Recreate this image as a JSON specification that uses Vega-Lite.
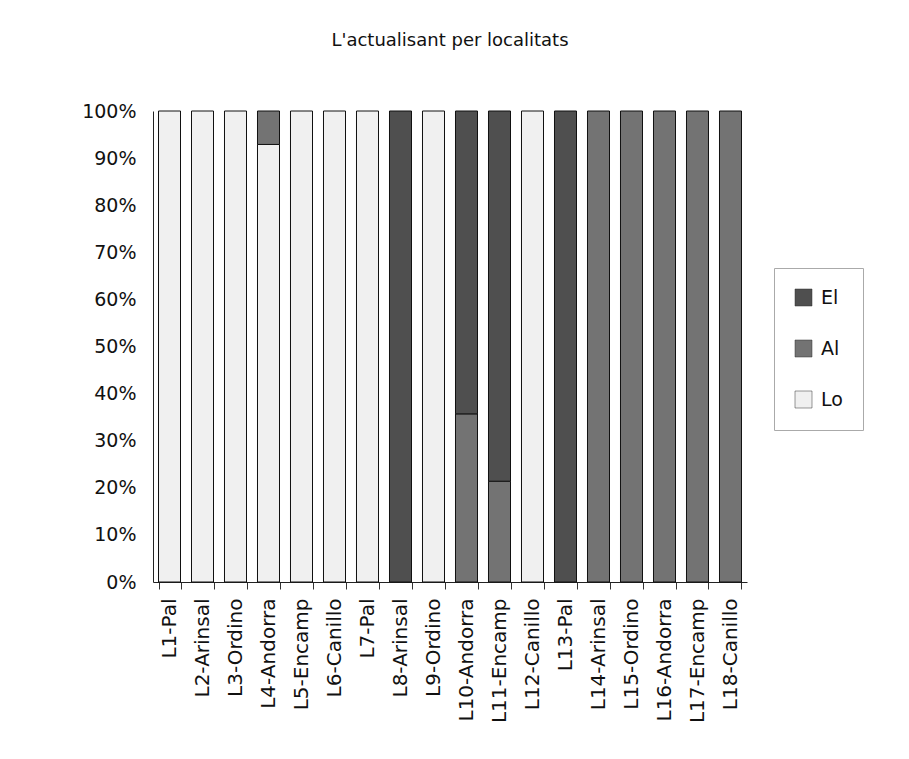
{
  "$schema": "https://vega.github.io/schema/vega-lite/v6.json",
  "autosize": {"type": "none"},
  "width": 594,
  "height": 471,
  "padding": {"left": 153, "top": 111, "right": 162, "bottom": 177},
  "background": "white",
  "title": {
    "text": "L'actualisant per localitats",
    "font": "DejaVu Sans",
    "fontSize": 18,
    "fontWeight": "normal",
    "color": "#111",
    "anchor": "middle",
    "frame": "group",
    "baseline": "alphabetic",
    "offset": 38
  },
  "data": {
    "values": [
      {"loc": "L1-Pal", "s": "Lo", "v": 100},
      {"loc": "L2-Arinsal", "s": "Lo", "v": 100},
      {"loc": "L3-Ordino", "s": "Lo", "v": 100},
      {"loc": "L4-Andorra", "s": "Lo", "v": 92.9},
      {"loc": "L4-Andorra", "s": "Al", "v": 7.1},
      {"loc": "L5-Encamp", "s": "Lo", "v": 100},
      {"loc": "L6-Canillo", "s": "Lo", "v": 100},
      {"loc": "L7-Pal", "s": "Lo", "v": 100},
      {"loc": "L8-Arinsal", "s": "El", "v": 100},
      {"loc": "L9-Ordino", "s": "Lo", "v": 100},
      {"loc": "L10-Andorra", "s": "Al", "v": 35.7},
      {"loc": "L10-Andorra", "s": "El", "v": 64.3},
      {"loc": "L11-Encamp", "s": "Al", "v": 21.4},
      {"loc": "L11-Encamp", "s": "El", "v": 78.6},
      {"loc": "L12-Canillo", "s": "Lo", "v": 100},
      {"loc": "L13-Pal", "s": "El", "v": 100},
      {"loc": "L14-Arinsal", "s": "Al", "v": 100},
      {"loc": "L15-Ordino", "s": "Al", "v": 100},
      {"loc": "L16-Andorra", "s": "Al", "v": 100},
      {"loc": "L17-Encamp", "s": "Al", "v": 100},
      {"loc": "L18-Canillo", "s": "Al", "v": 100}
    ]
  },
  "transform": [
    {"calculate": "indexof(['Lo','Al','El'], datum.s)", "as": "ord"}
  ],
  "mark": {"type": "bar", "stroke": "#111", "strokeWidth": 1},
  "encoding": {
    "x": {
      "field": "loc",
      "type": "nominal",
      "sort": null,
      "scale": {"paddingInner": 0.333, "paddingOuter": 0.1667},
      "axis": {
        "title": null,
        "labelAngle": -90,
        "labelFont": "DejaVu Sans",
        "labelFontSize": 20,
        "labelColor": "#111",
        "labelPadding": 9,
        "tickBand": "extent",
        "tickSize": 7,
        "tickColor": "#333",
        "domainColor": "#222",
        "labelBaseline": "middle",
        "labelAlign": "right"
      }
    },
    "y": {
      "field": "v",
      "type": "quantitative",
      "stack": "normalize",
      "scale": {"domain": [0, 1]},
      "axis": {
        "title": null,
        "grid": false,
        "values": [0, 0.1, 0.2, 0.3, 0.4, 0.5, 0.6, 0.7, 0.8, 0.9, 1],
        "format": ".0%",
        "labelFont": "DejaVu Sans",
        "labelFontSize": 19,
        "labelColor": "#111",
        "ticks": false,
        "labelPadding": 17,
        "domainColor": "#222"
      }
    },
    "order": {"field": "ord", "type": "quantitative", "sort": "ascending"},
    "color": {
      "field": "s",
      "type": "nominal",
      "scale": {"domain": ["El", "Al", "Lo"], "range": ["#4f4f4f", "#737373", "#f0f0f0"]},
      "legend": {
        "title": null,
        "orient": "none",
        "legendX": 621,
        "legendY": 157,
        "padding": 20,
        "rowPadding": 31,
        "symbolType": "square",
        "symbolSize": 289,
        "symbolStrokeColor": "#333",
        "symbolStrokeWidth": 0.5,
        "labelFont": "DejaVu Sans",
        "labelFontSize": 19,
        "labelColor": "#111",
        "labelOffset": 8,
        "strokeColor": "#aaaaaa",
        "fillColor": "white"
      }
    }
  },
  "config": {"view": {"stroke": null}}
}
